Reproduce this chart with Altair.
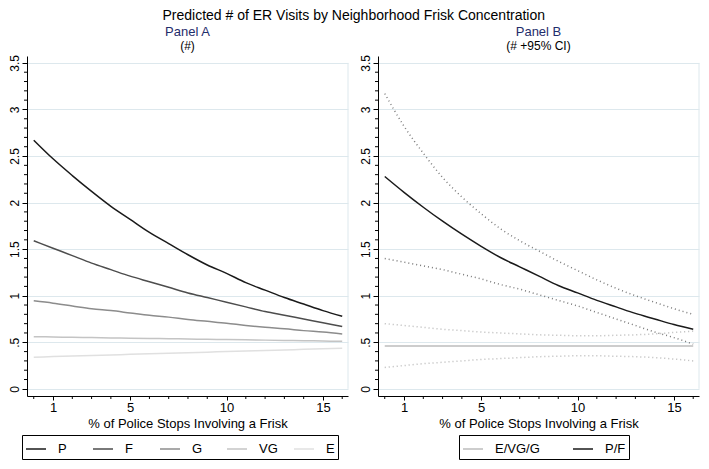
import altair as alt
import pandas as pd

FONT = "Liberation Sans"

# ---- data ----
x_vals = [0, 1, 2, 3, 4, 5, 6, 7, 8, 9, 10, 11, 12, 13, 14, 15, 16]

# Panel A
p_vals = [2.67, 2.47, 2.29, 2.12, 1.96, 1.82, 1.68, 1.56, 1.44, 1.33, 1.24, 1.14, 1.06, 0.98, 0.91, 0.84, 0.78]
f_vals = [1.59, 1.51, 1.43, 1.35, 1.28, 1.21, 1.15, 1.09, 1.03, 0.98, 0.93, 0.88, 0.83, 0.79, 0.75, 0.71, 0.67]
g_vals = [0.945, 0.92, 0.89, 0.86, 0.84, 0.815, 0.79, 0.77, 0.745, 0.725, 0.705, 0.68, 0.66, 0.645, 0.625, 0.61, 0.59]
vg_vals = [0.56, 0.557, 0.553, 0.55, 0.547, 0.544, 0.541, 0.538, 0.535, 0.532, 0.529, 0.526, 0.523, 0.52, 0.517, 0.513, 0.51]
e_vals = [0.34, 0.346, 0.352, 0.358, 0.364, 0.37, 0.376, 0.382, 0.388, 0.394, 0.40, 0.406, 0.412, 0.418, 0.424, 0.43, 0.436]

# Panel B
pf_vals = [2.28, 2.11, 1.95, 1.80, 1.66, 1.53, 1.41, 1.31, 1.21, 1.11, 1.03, 0.95, 0.88, 0.81, 0.75, 0.69, 0.64]
pf_hi = [3.17, 2.82, 2.53, 2.27, 2.06, 1.88, 1.72, 1.59, 1.48, 1.37, 1.27, 1.17, 1.08, 1.00, 0.93, 0.86, 0.80]
pf_lo = [1.40, 1.36, 1.32, 1.28, 1.23, 1.18, 1.12, 1.07, 1.01, 0.95, 0.89, 0.82, 0.75, 0.68, 0.61, 0.55, 0.48]
evg_vals = [0.46, 0.46, 0.46, 0.46, 0.46, 0.46, 0.46, 0.46, 0.46, 0.46, 0.46, 0.46, 0.46, 0.46, 0.46, 0.46, 0.46]
evg_hi = [0.70, 0.68, 0.66, 0.64, 0.625, 0.61, 0.60, 0.59, 0.58, 0.575, 0.57, 0.57, 0.575, 0.58, 0.59, 0.605, 0.62]
evg_lo = [0.23, 0.25, 0.27, 0.285, 0.30, 0.315, 0.325, 0.335, 0.345, 0.35, 0.355, 0.355, 0.35, 0.345, 0.335, 0.32, 0.30]

series_a = ["P", "F", "G", "VG", "E"]
colors_a = ["#1a1a1a", "#4d4d4d", "#8c8c8c", "#c4c4c4", "#e0e0e0"]
series_b = ["E/VG/G", "P/F"]
colors_b = ["#bdbdbd", "#1a1a1a"]
ci_colors = {"E/VG/G": "#b9b9b9", "P/F": "#7a7a7a"}

y_major = [0, 0.5, 1, 1.5, 2, 2.5, 3, 3.5]
y_minor = [0.1, 0.2, 0.3, 0.4, 0.6, 0.7, 0.8, 0.9, 1.1, 1.2, 1.3, 1.4, 1.6, 1.7, 1.8, 1.9,
           2.1, 2.2, 2.3, 2.4, 2.6, 2.7, 2.8, 2.9, 3.1, 3.2, 3.3, 3.4]
x_major = [1, 5, 10, 15]
x_minor = [0, 2, 3, 4, 6, 7, 8, 9, 11, 12, 13, 14, 16]

title_main = "Predicted # of ER Visits by Neighborhood Frisk Concentration"
x_title = "% of Police Stops Involving a Frisk"

# ---- tables ----
rows_a = []
for name, vals in zip(series_a, [p_vals, f_vals, g_vals, vg_vals, e_vals]):
    for x, v in zip(x_vals, vals):
        rows_a.append({"x": x, "y": v, "series": name})
df_a = pd.DataFrame(rows_a)

rows_b = []
for name, vals in zip(series_b, [evg_vals, pf_vals]):
    for x, v in zip(x_vals, vals):
        rows_b.append({"x": x, "y": v, "series": name})
df_b = pd.DataFrame(rows_b)


def ci_frame(name, hi, lo):
    rows = []
    for band, vals in [("hi", hi), ("lo", lo)]:
        for x, v in zip(x_vals, vals):
            rows.append({"x": x, "y": v, "band": name + band})
    return pd.DataFrame(rows)


df_ci_pf = ci_frame("P/F", pf_hi, pf_lo)
df_ci_evg = ci_frame("E/VG/G", evg_hi, evg_lo)

W, H = 321, 340
X_DOM = [-0.35, 16.3]
Y_DOM = [-0.077, 3.574]

x_scale = alt.Scale(domain=X_DOM, nice=False, zero=False)
y_scale = alt.Scale(domain=Y_DOM, nice=False, zero=False)

x_enc = alt.X(
    "x:Q",
    scale=x_scale,
    axis=alt.Axis(
        values=x_major,
        format="~g",
        title=x_title,
        grid=False,
        tickSize=4,
        labelOverlap=False,
        labelFontSize=13,
        titleFontSize=13,
        titleFontWeight="normal",
        labelPadding=1,
        titlePadding=3,
    ),
)

y_enc = alt.Y(
    "y:Q",
    scale=y_scale,
    axis=alt.Axis(
        values=y_major,
        format="~g",
        labelExpr="indexof(datum.label, '0.') == 0 ? substring(datum.label, 1) : datum.label",
        title=None,
        labelAngle=270,
        labelAlign="center",
        labelBaseline="bottom",
        labelOverlap=False,
        labelFontSize=12,
        labelPadding=1,
        tickSize=5,
        grid=True,
    ),
)

df_yminor = pd.DataFrame({"y": y_minor})
df_xminor = pd.DataFrame({"x": x_minor})

y_minor_ticks = alt.Chart(df_yminor).mark_rule(color="#000", strokeWidth=1).encode(
    y=alt.Y("y:Q", scale=y_scale), x=alt.value(-3), x2=alt.value(0)
)
x_minor_ticks = alt.Chart(df_xminor).mark_rule(color="#000", strokeWidth=1).encode(
    x=alt.X("x:Q", scale=x_scale), y=alt.value(H), y2=alt.value(H + 3)
)

border = alt.Chart(pd.DataFrame({"a": [0]})).mark_rule(color="#dde8ed", strokeWidth=1).encode(
    x=alt.value(W), y=alt.datum(0, scale=y_scale), y2=alt.datum(3.5)
)

legend_common = dict(
    title=None, orient="none", direction="horizontal", legendY=H + 39,
    symbolType="stroke", symbolSize=400, symbolStrokeWidth=1.5,
    strokeColor="#000", labelFontSize=13, labelOffset=11, labelFont=FONT, padding=3,
)

lines_a = alt.Chart(df_a).mark_line(strokeWidth=1.5, interpolate="monotone").encode(
    x=x_enc,
    y=y_enc,
    color=alt.Color(
        "series:N",
        scale=alt.Scale(domain=series_a, range=colors_a),
        legend=alt.Legend(legendX=-5, columnPadding=13, gridAlign="all", **legend_common),
    ),
    order=alt.Order("x:Q"),
)

panel_title = dict(fontSize=13, color="#1f2d6b", subtitleColor="#000", subtitleFontSize=12,
                   fontWeight="normal", anchor="middle", subtitlePadding=2, offset=3,
                   font=FONT, subtitleFont=FONT)

panel_a = alt.layer(border, y_minor_ticks, x_minor_ticks, lines_a).properties(
    width=W, height=H,
    title=alt.TitleParams("Panel A", subtitle="(#)", **panel_title),
)

lines_b = alt.Chart(df_b).mark_line(strokeWidth=1.5, interpolate="monotone").encode(
    x=x_enc,
    y=y_enc,
    color=alt.Color(
        "series:N",
        scale=alt.Scale(domain=series_b, range=colors_b),
        legend=alt.Legend(legendX=81, columnPadding=30, gridAlign="each", **legend_common),
    ),
    order=alt.Order("x:Q"),
)

ci_pf = alt.Chart(df_ci_pf).mark_line(
    strokeWidth=1.5, strokeDash=[1, 3], color=ci_colors["P/F"], interpolate="monotone"
).encode(x=x_enc, y=y_enc, detail="band:N", order=alt.Order("x:Q"))

ci_evg = alt.Chart(df_ci_evg).mark_line(
    strokeWidth=1.5, strokeDash=[1, 3], color=ci_colors["E/VG/G"], interpolate="monotone"
).encode(x=x_enc, y=y_enc, detail="band:N", order=alt.Order("x:Q"))

panel_b = alt.layer(border, y_minor_ticks, x_minor_ticks, ci_evg, ci_pf, lines_b).properties(
    width=W, height=H,
    title=alt.TitleParams("Panel B", subtitle="(# +95% CI)", **panel_title),
)

chart = alt.hconcat(panel_a, panel_b, spacing=10).resolve_scale(
    color="independent"
).properties(
    title=alt.TitleParams(title_main, fontSize=14, fontWeight="normal", font=FONT,
                          anchor="middle", offset=3, baseline="top"),
    padding=0,
).configure(
    font=FONT,
).configure_view(
    stroke=None,
).configure_axis(
    labelFont=FONT, titleFont=FONT, labelColor="#000", titleColor="#000",
    domainColor="#000", tickColor="#000", gridColor="#dde8ed", gridWidth=1,
)

chart.save("out.html", embed_options={"renderer": "svg", "actions": False})
